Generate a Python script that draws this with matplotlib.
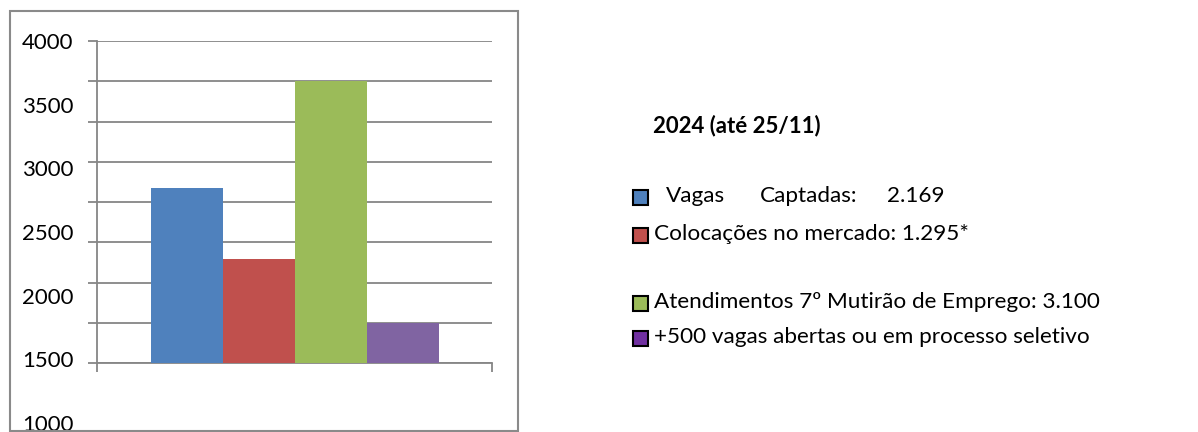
import matplotlib
matplotlib.use("Agg")
import matplotlib.pyplot as plt
from matplotlib.patches import Rectangle

# data
series = ["Vagas Captadas", "Colocações no mercado", "Atendimentos 7º Mutirão de Emprego",
          "+500 vagas abertas ou em processo seletivo"]
values = [2169, 1295, 3500, 500]
bar_colors = ["#4F81BD", "#C0504D", "#9BBB59", "#8064A2"]
legend_colors = ["#4F81BD", "#C0504D", "#9BBB59", "#7030A0"]
legend_texts = ["Colocações no mercado: 1.295*",
                "Atendimentos 7º Mutirão de Emprego: 3.100",
                "+500 vagas abertas ou em processo seletivo"]
y_labels = [1000, 1500, 2000, 2500, 3000, 3500, 4000]
title = "2024 (até 25/11)"

W, H = 1198, 432
FONT = ["Lato", "DejaVu Sans"]
GREY = "#868686"

fig = plt.figure(figsize=(W / 100, H / 100), dpi=100)


def fx(px):
    return px / W


def fy(py):
    return 1 - py / H


# outer chart border
fig.patches.append(Rectangle((fx(10), fy(431)), fx(508), (431 - 11) / H,
                             transform=fig.transFigure, fill=False,
                             edgecolor="#8a8a8a", linewidth=1.5))

ax = fig.add_axes([fx(97), fy(363), fx(395), (363 - 41) / H])
w = 72 / 395
for i, (v, c) in enumerate(zip(values, bar_colors)):
    ax.bar(0.5 + (i - 1.5) * w, v, width=w, color=c, zorder=3)
ax.set_xlim(0, 1)
ax.set_ylim(0, 4000)
ax.set_yticks(range(0, 4001, 500))
ax.set_xticks([0, 1])
ax.grid(axis="y", color=GREY, linewidth=1.3, zorder=0)
for s in ["top", "right"]:
    ax.spines[s].set_visible(False)
for s in ["left", "bottom"]:
    ax.spines[s].set_color(GREY)
    ax.spines[s].set_linewidth(1.3)
ax.tick_params(axis="both", length=6.5, width=1.3, color=GREY,
               labelleft=False, labelbottom=False)

# y labels as they appear in the picture (not aligned with the gridlines)
lab = fig.add_axes([fx(97), fy(423), 0.001, (423 - 41) / H])
lab.set_ylim(1000, 4000)
lab.set_yticks(y_labels)
lab.set_yticklabels([str(v) for v in y_labels], fontsize=16, family=FONT)
lab.tick_params(axis="y", length=0, pad=17)
lab.set_xticks([])
for s in lab.spines.values():
    s.set_visible(False)
lab.patch.set_visible(False)

# legend text block
fig.text(fx(653), fy(126), title, fontsize=16, fontweight="bold",
         family=FONT, va="center", ha="left")

rows_y = [197, 235, 303, 338]
for c, yy in zip(legend_colors, rows_y):
    fig.patches.append(Rectangle((fx(633), fy(yy + 7.5)), fx(15), 15 / H,
                                 transform=fig.transFigure, facecolor=c,
                                 edgecolor="black", linewidth=1.5))

fig.text(fx(666), fy(196), "Vagas", fontsize=16.2, family=FONT, va="center")
fig.text(fx(760), fy(196), "Captadas:", fontsize=16.2, family=FONT, va="center")
fig.text(fx(887), fy(196), "2.169", fontsize=16.2, family=FONT, va="center")
for t, yy in zip(legend_texts, rows_y[1:]):
    fig.text(fx(654), fy(yy - 1), t, fontsize=16.2, family=FONT, va="center")

fig.savefig("out.png", dpi=100)
